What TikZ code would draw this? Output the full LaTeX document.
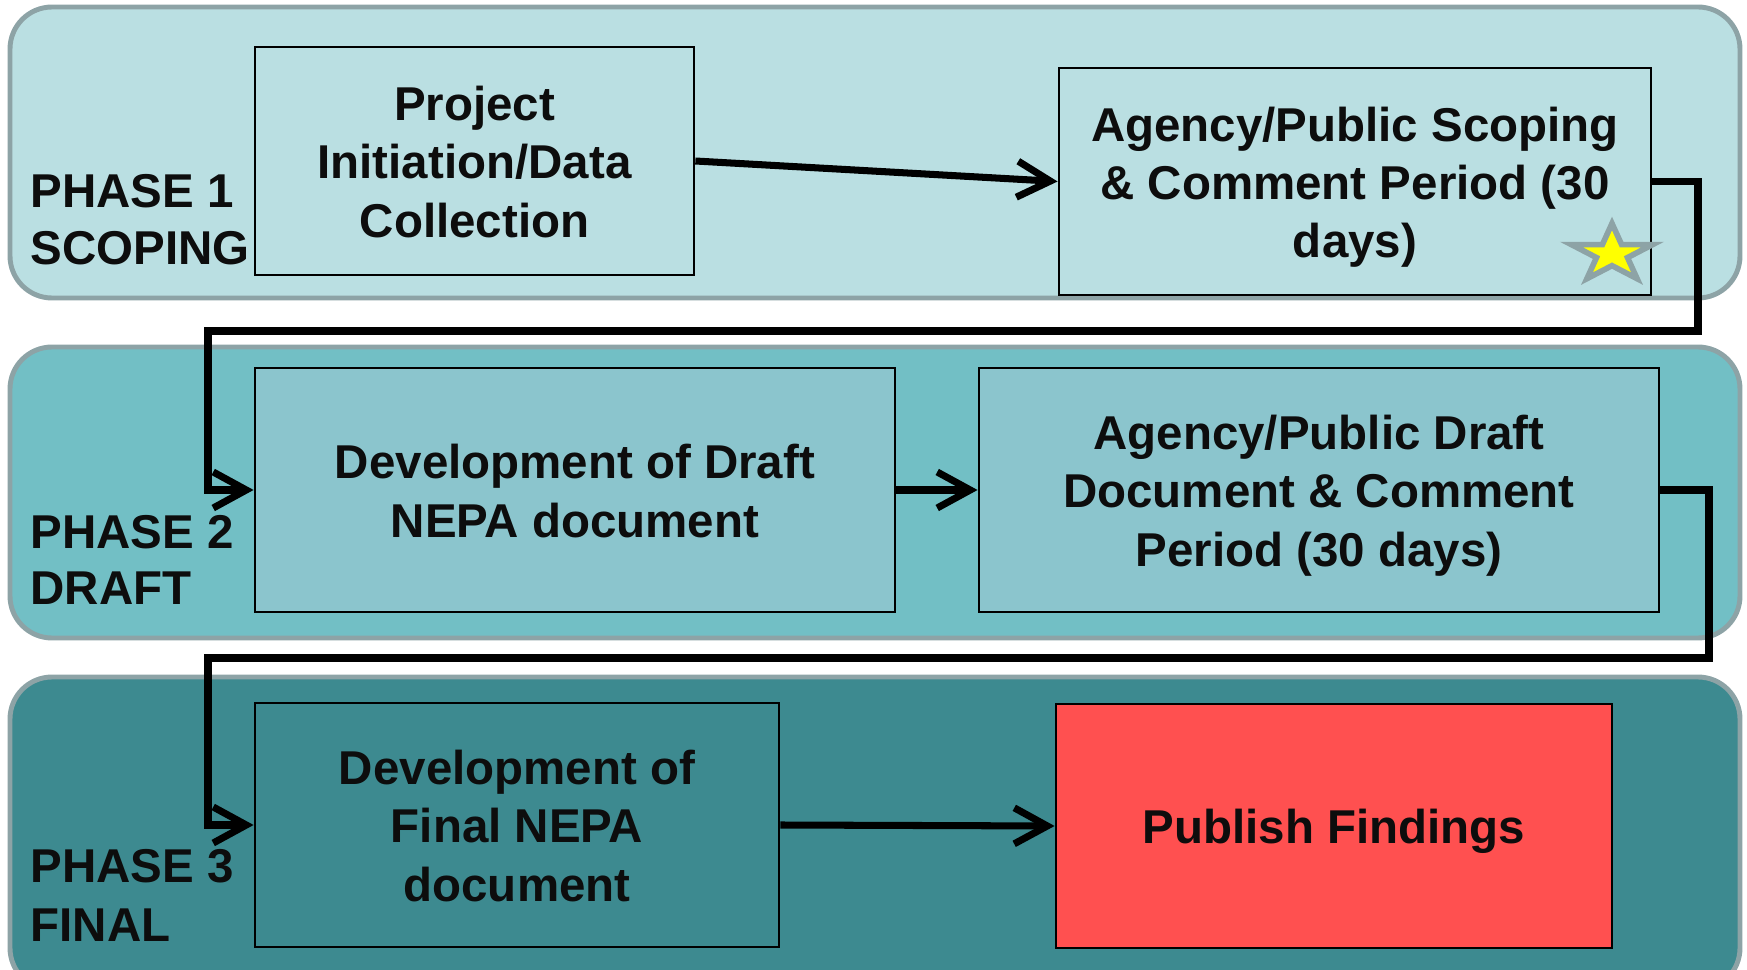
\documentclass[tikz,border=0pt]{standalone}
\usepackage{fontspec}
\setmainfont{Liberation Sans}
\usetikzlibrary{arrows.meta}
\definecolor{pOne}{HTML}{BADFE2}
\definecolor{pTwo}{HTML}{72BFC5}
\definecolor{pThree}{HTML}{3D8A90}
\definecolor{bTwo}{HTML}{8BC5CD}
\definecolor{pubRed}{HTML}{FF5050}
\definecolor{panelEdge}{HTML}{8DA3A6}
\definecolor{txt}{HTML}{0D0D0D}
\definecolor{starYellow}{HTML}{FFFF00}
\newcommand\topstrut{\rule{0pt}{0.97em}}
\newcommand\botstrut{\rule[-0.212em]{0pt}{0.5em}}
\tikzset{
  panel/.style={draw=panelEdge, line width=1.4pt, rounded corners=0.42cm},
  stepbox/.style={draw=black, line width=0.7pt, align=center, inner sep=2pt,
    text=txt, font=\fontsize{13.5}{16.5}\selectfont\bfseries},
  phaselabel/.style={anchor=base west, inner sep=0pt, text=txt,
    font=\fontsize{13.5}{16.5}\selectfont\bfseries},
  conn/.style={draw=black, line width=2pt, line join=miter,
    -{Straight Barb[length=3.3mm,width=3.6mm,line width=2pt]}},
  starsty/.style={fill=starYellow, draw=panelEdge, line width=1.6pt, line join=miter}
}
\begin{document}
\begin{tikzpicture}[x=0.01cm,y=-0.01cm]
\useasboundingbox (0,0) rectangle (1747,970);
\clip (0,0) rectangle (1747,970);
\fill[white] (0,0) rectangle (1747,970);
% panels
\draw[panel, fill=pOne] (10,7) rectangle (1740,298);
\draw[panel, fill=pTwo] (10,347) rectangle (1740,638);
\draw[panel, fill=pThree] (10,677) rectangle (1740,990);
% phase labels
\node[phaselabel] (l1a) at (30,208) {PHASE 1};
\node[phaselabel] (l1b) at (30,265) {SCOPING};
\node[phaselabel] (l2a) at (30,548) {PHASE 2};
\node[phaselabel] (l2b) at (30,605) {DRAFT};
\node[phaselabel] (l3a) at (30,883) {PHASE 3};
\node[phaselabel] (l3b) at (30,941) {FINAL};
% step boxes
\node[stepbox, fill=pOne, minimum width=4.39cm, minimum height=2.28cm] (proj) at (474.5,161)
  {\topstrut Project\\Initiation/Data\\Collection\botstrut};
\node[stepbox, fill=pOne, minimum width=5.92cm, minimum height=2.27cm] (scop) at (1355,181.5)
  {\topstrut Agency/Public Scoping\\\& Comment Period (30\\days)\botstrut};
\node[stepbox, fill=bTwo, minimum width=6.40cm, minimum height=2.44cm] (ddraft) at (575,490)
  {\topstrut Development of Draft\\NEPA document\botstrut};
\node[stepbox, fill=bTwo, minimum width=6.80cm, minimum height=2.44cm] (adraft) at (1319,490)
  {\topstrut Agency/Public Draft\\Document \& Comment\\Period (30 days)\botstrut};
\node[stepbox, fill=pThree, minimum width=5.24cm, minimum height=2.44cm] (dfinal) at (517,825)
  {\topstrut Development of\\Final NEPA\\document\botstrut};
\node[stepbox, fill=pubRed, minimum width=5.56cm, minimum height=2.44cm] (pub) at (1334,826)
  {\topstrut Publish Findings\botstrut};
% star
\begin{scope}[shift={(1612,254)}]
\draw[starsty, xscale=1.40]
  (90:0.305cm) -- (126:0.1165cm) -- (162:0.305cm) -- (198:0.1165cm) --
  (234:0.305cm) -- (270:0.1165cm) -- (306:0.305cm) -- (342:0.1165cm) --
  (18:0.305cm) -- (54:0.1165cm) -- cycle;
\end{scope}
% connector corners
\coordinate (c1) at (1698,181.5);
\coordinate (c2) at (1698,331);
\coordinate (c3) at (208,331);
\coordinate (c4) at (208,490);
\coordinate (d1) at (1709,490);
\coordinate (d2) at (1709,658);
\coordinate (d3) at (208,658);
\coordinate (d4) at (208,825);
% connectors
\draw[conn] (proj.east) -- (scop.west);
\draw[conn] (scop.east) -- (c1) -- (c2) -- (c3) -- (c4) -- (ddraft.west);
\draw[conn] (ddraft.east) -- (adraft.west);
\draw[conn] (adraft.east) -- (d1) -- (d2) -- (d3) -- (d4) -- (dfinal.west);
\draw[conn] (dfinal.east) -- (pub.west);
\end{tikzpicture}
\end{document}
